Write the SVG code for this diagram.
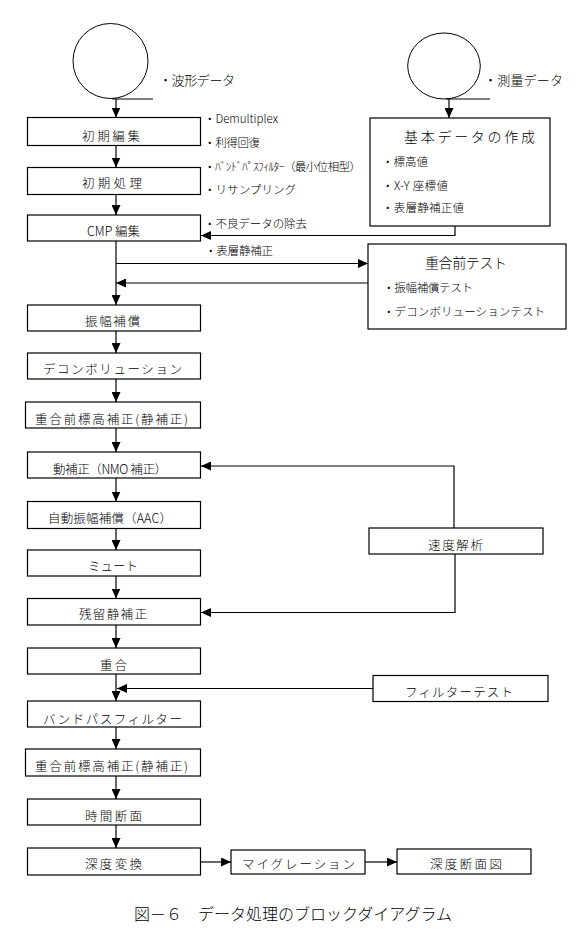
<svg xmlns="http://www.w3.org/2000/svg" width="583" height="946" viewBox="0 0 583 946">
<style>
.box{fill:#fff;stroke:#000;stroke-width:1.2}
.tape{fill:#fff;stroke:#000;stroke-width:1}
.conn{fill:none;stroke:#000;stroke-width:1.2}
text{font-family:"Noto Sans CJK JP","Noto Sans CJK SC",sans-serif;font-weight:300;fill:#000}
.lbl{font-size:12.5px}
.note{font-size:11.5px}
.ttl{font-size:13px}
.hd{font-size:14px}
.cap{font-size:16px}
</style>
<defs>
<marker id="ah" markerUnits="userSpaceOnUse" markerWidth="10" markerHeight="9" refX="10" refY="4.5" orient="auto" viewBox="0 0 10 9"><path d="M0,0L10,4.5L0,9z" fill="#000"/></marker>
</defs>
<rect width="583" height="946" fill="#fff"/>

<g id="connectors">
<path class="conn" marker-end="url(#ah)" d="M116,99V117.5"/>
<path class="conn" marker-end="url(#ah)" d="M116,145.5V167.5"/>
<path class="conn" marker-end="url(#ah)" d="M116,194.5V215"/>
<path class="conn" marker-end="url(#ah)" d="M116,241V305"/>
<path class="conn" marker-end="url(#ah)" d="M116,331V353"/>
<path class="conn" marker-end="url(#ah)" d="M116,379V402"/>
<path class="conn" marker-end="url(#ah)" d="M116,428V452"/>
<path class="conn" marker-end="url(#ah)" d="M116,478V501.5"/>
<path class="conn" marker-end="url(#ah)" d="M116,528.5V550"/>
<path class="conn" marker-end="url(#ah)" d="M116,576V598.5"/>
<path class="conn" marker-end="url(#ah)" d="M116,625V648"/>
<path class="conn" marker-end="url(#ah)" d="M116,674V701"/>
<path class="conn" marker-end="url(#ah)" d="M116,727V749"/>
<path class="conn" marker-end="url(#ah)" d="M116,776V799"/>
<path class="conn" marker-end="url(#ah)" d="M116,825V848"/>
<path class="conn" marker-end="url(#ah)" d="M449,99V118"/>
<path class="conn" marker-end="url(#ah)" d="M455,226V235.5H201"/>
<path class="conn" marker-end="url(#ah)" d="M116,263.5H368"/>
<path class="conn" marker-end="url(#ah)" d="M368,283H116"/>
<path class="conn" marker-end="url(#ah)" d="M454,528V466H201"/>
<path class="conn" marker-end="url(#ah)" d="M455,554V612.5H201"/>
<path class="conn" marker-end="url(#ah)" d="M373,688.5H117"/>
<path class="conn" marker-end="url(#ah)" d="M200.5,862H231"/>
<path class="conn" marker-end="url(#ah)" d="M365,862H397"/>
</g>

<g id="waveform-data">
<circle class="tape" cx="110.5" cy="61" r="37.5"/>
<path class="conn" d="M112,99H153"/>
<text class="ttl" x="159" y="85" textLength="76">・波形データ</text>
</g>
<g id="survey-data">
<ellipse class="tape" cx="444" cy="66" rx="36.3" ry="33"/>
<path class="conn" d="M446,99H490"/>
<text class="ttl" x="484" y="85" textLength="79">・測量データ</text>
</g>

<g id="n1"><rect class="box" x="27.5" y="117.5" width="173" height="28"/><text class="lbl" x="82" y="141" textLength="58">初期編集</text></g>
<g id="n1-notes">
<text class="note" x="204" y="123" textLength="74">・Demultiplex</text>
<text class="note" x="204" y="147" textLength="56">・利得回復</text>
</g>
<g id="n2"><rect class="box" x="27.5" y="167.5" width="173" height="27"/><text class="lbl" x="82" y="187.5" textLength="60">初期処理</text></g>
<g id="n2-notes">
<text class="note" x="204" y="171" textLength="157">・ﾊﾞﾝﾄﾞﾊﾟｽﾌｨﾙﾀｰ（最小位相型）</text>
<text class="note" x="204" y="194" textLength="92">・リサンプリング</text>
</g>
<g id="n3"><rect class="box" x="27.5" y="215" width="173" height="26"/><text class="lbl" x="87" y="236" textLength="53">CMP 編集</text></g>
<g id="n3-notes">
<text class="note" x="204" y="228" textLength="103">・不良データの除去</text>
<text class="note" x="205" y="255" textLength="68">・表層静補正</text>
</g>

<g id="basic-data">
<rect class="box" x="370" y="118" width="180" height="108"/>
<text class="hd" x="404" y="141.5" textLength="131">基本データの作成</text>
<text class="note" x="382" y="166" textLength="46">・標高値</text>
<text class="note" x="382" y="189.5" textLength="66">・X-Y 座標値</text>
<text class="note" x="382" y="212" textLength="82">・表層静補正値</text>
</g>

<g id="prestack-test">
<rect class="box" x="368" y="244" width="198" height="85"/>
<text class="hd" x="425" y="268" textLength="82">重合前テスト</text>
<text class="note" x="383" y="292" textLength="90">・振幅補償テスト</text>
<text class="note" x="383" y="316" textLength="162">・デコンボリューションテスト</text>
</g>

<g id="n4"><rect class="box" x="27.5" y="305" width="173" height="26"/><text class="lbl" x="85" y="325.5" textLength="55">振幅補償</text></g>
<g id="n5"><rect class="box" x="27.5" y="353" width="173" height="26"/><text class="lbl" x="43" y="374" textLength="139">デコンボリューション</text></g>
<g id="n6"><rect class="box" x="25.5" y="402" width="175" height="26"/><text class="lbl" x="35" y="424" textLength="153">重合前標高補正(静補正)</text></g>
<g id="n7"><rect class="box" x="27.5" y="452" width="173" height="26"/><text class="lbl" x="53" y="474" textLength="114">動補正（NMO 補正）</text></g>
<g id="n8"><rect class="box" x="27.5" y="501.5" width="173" height="27"/><text class="lbl" x="48" y="523" textLength="124">自動振幅補償（AAC）</text></g>
<g id="n9"><rect class="box" x="27.5" y="550" width="173" height="26"/><text class="lbl" x="88" y="571" textLength="50">ミュート</text></g>
<g id="n10"><rect class="box" x="27.5" y="598.5" width="173" height="26.5"/><text class="lbl" x="79" y="619" textLength="68">残留静補正</text></g>
<g id="n11"><rect class="box" x="27.5" y="648" width="173" height="26"/><text class="lbl" x="100" y="669.5" textLength="27">重合</text></g>
<g id="n12"><rect class="box" x="27.5" y="701" width="173" height="26"/><text class="lbl" x="43" y="723.5" textLength="139">バンドパスフィルター</text></g>
<g id="n13"><rect class="box" x="25.5" y="749" width="175" height="27"/><text class="lbl" x="35" y="771" textLength="153">重合前標高補正(静補正)</text></g>
<g id="n14"><rect class="box" x="27.5" y="799" width="173" height="26"/><text class="lbl" x="85" y="821" textLength="57">時間断面</text></g>
<g id="n15"><rect class="box" x="27.5" y="848" width="173" height="27"/><text class="lbl" x="85" y="869" textLength="57">深度変換</text></g>
<g id="n16"><rect class="box" x="231" y="850" width="134" height="24"/><text class="lbl" x="242" y="869" textLength="113">マイグレーション</text></g>
<g id="n17"><rect class="box" x="397" y="849" width="134" height="25"/><text class="lbl" x="430" y="868.5" textLength="72">深度断面図</text></g>

<g id="velocity-analysis"><rect class="box" x="369" y="528" width="174" height="26"/><text class="lbl" x="428" y="549.5" textLength="55">速度解析</text></g>
<g id="filter-test"><rect class="box" x="373" y="675.5" width="175" height="26"/><text class="lbl" x="405" y="696.5" textLength="108">フィルターテスト</text></g>

<text class="cap" x="134" y="920" textLength="318">図－６　データ処理のブロックダイアグラム</text>
</svg>
